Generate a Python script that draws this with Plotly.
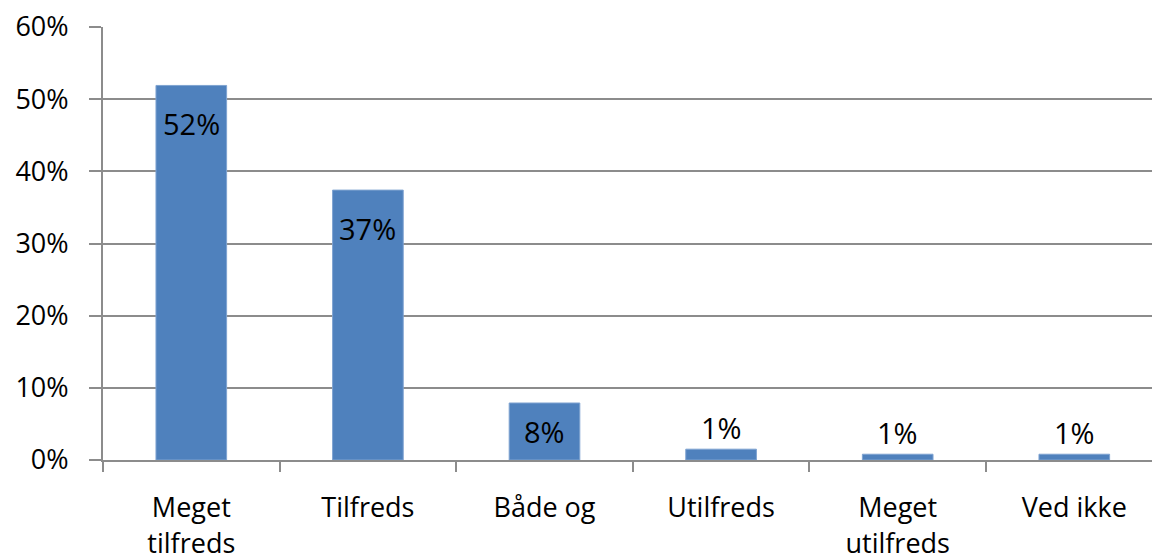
import plotly.graph_objects as go

categories = ["Meget<br>tilfreds", "Tilfreds", "Både og", "Utilfreds", "Meget<br>utilfreds", "Ved ikke"]
values = [0.519, 0.374, 0.079, 0.015, 0.008, 0.008]
labels = ["52%", "37%", "8%", "1%", "1%", "1%"]
label_mode = ["inside_end", "inside_end", "inside_center", "outside", "outside", "outside"]
y_ticks = [0, 0.1, 0.2, 0.3, 0.4, 0.5, 0.6]
y_tick_text = ["0%", "10%", "20%", "30%", "40%", "50%", "60%"]

FONT = "Open Sans"
GRID = "#8c8c8c"
AXIS_SIZE = 27
LABEL_SIZE = 29

fig = go.Figure(go.Bar(
    x=categories,
    y=values,
    marker=dict(color="#4F81BD", line=dict(color="#7fa3d1", width=1)),
    width=0.4,
    hoverinfo="skip",
))

for c, v, t, m in zip(categories, values, labels, label_mode):
    if m == "inside_end":
        y, shift = v, -38
    elif m == "inside_center":
        y, shift = v / 2, 0
    else:
        y, shift = v, 22
    fig.add_annotation(
        x=c, y=y, text=t, showarrow=False, yanchor="middle", yshift=shift,
        font=dict(family=FONT, size=LABEL_SIZE, color="black"),
    )

fig.update_layout(
    width=1152, height=559,
    margin=dict(l=103, r=0, t=27, b=99),
    paper_bgcolor="white", plot_bgcolor="white",
    showlegend=False,
    font=dict(family=FONT, size=AXIS_SIZE, color="black"),
)
fig.update_xaxes(
    type="category",
    range=[-0.5, 5.44],
    ticks="outside", tickson="boundaries", ticklen=10, tickcolor=GRID, tickwidth=2,
    showline=True, linecolor=GRID, linewidth=2,
    showgrid=False, zeroline=False,
    tickfont=dict(family=FONT, size=AXIS_SIZE, color="black"),
    ticklabelstandoff=23,
    automargin=False,
)
fig.update_yaxes(
    range=[0, 0.6],
    tickmode="array", tickvals=y_ticks, ticktext=y_tick_text,
    ticks="outside", ticklen=12, tickcolor=GRID, tickwidth=2,
    showline=True, linecolor=GRID, linewidth=2,
    showgrid=True, gridcolor=GRID, gridwidth=2,
    zeroline=False,
    tickfont=dict(family=FONT, size=AXIS_SIZE, color="black"),
    ticklabelstandoff=15,
    automargin=False,
)

fig.write_html(
    "out.html",
    config={"displayModeBar": False},
    post_script="document.body.style.margin='0';document.body.style.overflow='hidden';",
)
